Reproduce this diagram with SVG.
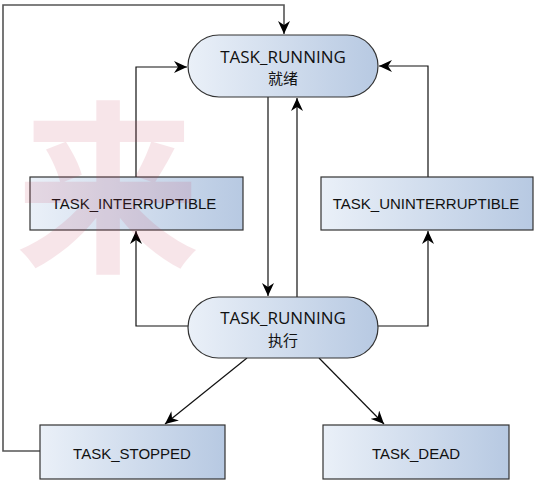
<svg xmlns="http://www.w3.org/2000/svg" width="537" height="481" viewBox="0 0 537 481">
<defs>
<linearGradient id="g" x1="0" y1="0" x2="1" y2="0">
<stop offset="0" stop-color="#eaf0f8"/>
<stop offset="1" stop-color="#b7c9e2"/>
</linearGradient>
<marker id="ah" markerWidth="14" markerHeight="12" refX="13" refY="6" orient="auto" markerUnits="userSpaceOnUse">
<path d="M0,0 L13,6 L0,12 L4,6 Z" fill="#000"/>
</marker>
<style>
.node rect{fill:url(#g);stroke:#333;stroke-width:1.2}
.pt{font-family:"Open Sans","Noto Sans CJK SC",sans-serif;font-size:17px;fill:#111;text-anchor:middle}
.pc{font-family:"Noto Sans CJK SC",sans-serif;font-size:15px;fill:#111;text-anchor:middle}
.bt{font-family:"Liberation Sans",Arial,sans-serif;font-size:15px;fill:#111;text-anchor:middle}
.c{fill:none;stroke:#111;stroke-width:1.2;marker-end:url(#ah)}
</style>
</defs>
<rect width="537" height="481" fill="#fff"/>
<g id="connectors">
<path class="c" style="stroke:#555;stroke-width:1.6" d="M40,451 H3 V5 H284 V34"/>
<path class="c" d="M136,177 V67 H187"/>
<path class="c" d="M428,177 V66 H379"/>
<path class="c" d="M268,97 V296"/>
<path class="c" d="M297,297 V98"/>
<path class="c" d="M188,326 H136 V231"/>
<path class="c" d="M378,326 H428 V231"/>
<path class="c" d="M247,358 L165,424"/>
<path class="c" d="M319,358 L384,424"/>
</g>
<g id="running_ready" class="node">
<rect x="188" y="35" width="190" height="62" rx="31" ry="31"/>
<text class="pt" x="283" y="63">TASK_RUNNING</text>
<text class="pc" x="283" y="84">就绪</text>
</g>
<g id="interruptible" class="node">
<rect x="30" y="177" width="213" height="53"/>
<text class="bt" x="134" y="209">TASK_INTERRUPTIBLE</text>
</g>
<g id="uninterruptible" class="node">
<rect x="321" y="177" width="212" height="53"/>
<text class="bt" x="426" y="209">TASK_UNINTERRUPTIBLE</text>
</g>
<g id="running_exec" class="node">
<rect x="188" y="297" width="190" height="61" rx="30.5" ry="30.5"/>
<text class="pt" x="283" y="324">TASK_RUNNING</text>
<text class="pc" x="283" y="346">执行</text>
</g>
<g id="stopped" class="node">
<rect x="40" y="425" width="185" height="54"/>
<text class="bt" x="132" y="459">TASK_STOPPED</text>
</g>
<g id="dead" class="node">
<rect x="323" y="425" width="186" height="54"/>
<text class="bt" x="416" y="459">TASK_DEAD</text>
</g>
<text x="108" y="258" font-family="Noto Sans CJK SC,sans-serif" font-weight="bold" font-size="185" fill="#c83c5a" opacity="0.13" text-anchor="middle">来</text>
</svg>
